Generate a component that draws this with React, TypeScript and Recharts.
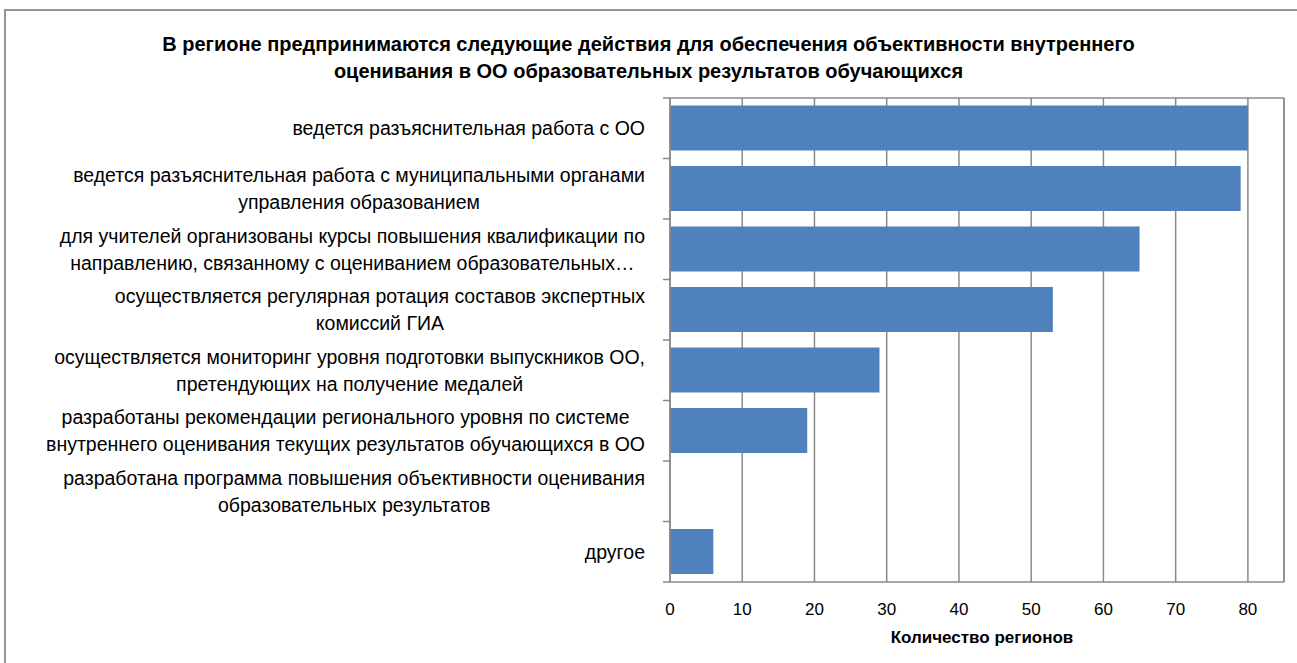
import React from "react";
import {
  BarChart,
  Bar,
  XAxis,
  YAxis,
  CartesianGrid,
  ReferenceLine,
} from "recharts";

const titleLines = [
  "В регионе предпринимаются следующие действия для обеспечения объективности внутреннего",
  "оценивания в ОО образовательных результатов обучающихся",
];

const categories = [
  "ведется разъяснительная работа с ОО",
  "ведется разъяснительная работа с муниципальными органами\nуправления образованием",
  "для учителей организованы курсы повышения квалификации по\nнаправлению, связанному с оцениванием образовательных…",
  "осуществляется регулярная ротация составов экспертных\nкомиссий ГИА",
  "осуществляется мониторинг уровня подготовки выпускников ОО,\nпретендующих на получение медалей",
  "разработаны рекомендации регионального уровня по системе\nвнутреннего оценивания текущих результатов обучающихся в ОО",
  "разработана программа повышения объективности оценивания\nобразовательных результатов",
  "другое",
];

const regionCounts = [80, 79, 65, 53, 29, 19, 0, 6];

const xTicks = [0, 10, 20, 30, 40, 50, 60, 70, 80];
const xMax = 85;
const xTitle = "Количество регионов";

const data = categories.map((name, i) => ({ name, value: regionCounts[i] }));

const FONT = "'Liberation Sans', Arial, sans-serif";
const GRID = "#8a8a8a";
const BAR = "#4F81BD";

const W = 1297;
const H = 663;
const PLOT_LEFT = 670;
const PLOT_TOP = 98;
const PLOT_BOTTOM = 582;
const LABEL_SIZE = 19.5;
const LINE_H = 27;

let ctx: CanvasRenderingContext2D | null = null;
function measure(text: string) {
  if (!ctx) ctx = document.createElement("canvas").getContext("2d");
  if (!ctx) return text.length * LABEL_SIZE * 0.5;
  ctx.font = `${LABEL_SIZE}px ${FONT}`;
  return ctx.measureText(text).width;
}

const band = (PLOT_BOTTOM - PLOT_TOP) / categories.length;

function CategoryTick(props: any) {
  const { y, payload, index } = props;
  const lines = String(payload.value).split("\n");
  const widest = Math.max(...lines.map(measure));
  const cx = PLOT_LEFT - 25 - widest / 2;
  const y0 = y - ((lines.length - 1) * LINE_H) / 2;
  return (
    <g>
      <line x1={PLOT_LEFT - 7} x2={PLOT_LEFT} y1={y - band / 2} y2={y - band / 2} stroke={GRID} strokeWidth={1.5} />
      {index === categories.length - 1 && (
        <line x1={PLOT_LEFT - 7} x2={PLOT_LEFT} y1={y + band / 2} y2={y + band / 2} stroke={GRID} strokeWidth={1.5} />
      )}
      <text
        x={cx}
        y={y0}
        textAnchor="middle"
        dominantBaseline="central"
        fontFamily={FONT}
        fontSize={LABEL_SIZE}
        fill="#000"
      >
        {lines.map((l, i) => (
          <tspan key={i} x={cx} y={y0 + i * LINE_H}>
            {l}
          </tspan>
        ))}
      </text>
    </g>
  );
}

export default function App() {
  return (
    <div
      style={{
        position: "absolute",
        left: 0,
        top: 0,
        width: W,
        height: H,
        overflow: "hidden",
        background: "#fff",
      }}
    >
      <div
        style={{
          position: "absolute",
          left: 4,
          top: 9,
          width: 1400,
          height: 800,
          borderLeft: "2px solid #959595",
          borderTop: "2px solid #959595",
        }}
      />
      <div
        style={{
          position: "absolute",
          left: 0,
          top: 31,
          width: W,
          textAlign: "center",
          fontFamily: FONT,
          fontWeight: "bold",
          fontSize: 20,
          lineHeight: "27px",
          color: "#000",
        }}
      >
        {titleLines.map((t, i) => (
          <div key={i}>{t}</div>
        ))}
      </div>
      <div style={{ position: "absolute", left: 0, top: 0 }}>
        <BarChart
          width={W}
          height={H}
          data={data}
          layout="vertical"
          margin={{ top: PLOT_TOP - 6, right: W - 1284, bottom: 0, left: 0 }}
          barCategoryGap="12.5%"
        >
          <CartesianGrid
            xAxisId="bottom"
            horizontal={false}
            vertical={true}
            stroke={GRID}
            strokeWidth={1.5}
          />
          <XAxis
            xAxisId="top"
            orientation="top"
            type="number"
            domain={[0, xMax]}
            ticks={xTicks}
            height={6}
            tick={false}
            tickSize={6}
            tickLine={{ stroke: GRID, strokeWidth: 1.5 }}
            axisLine={{ stroke: GRID, strokeWidth: 1.5 }}
          />
          <XAxis
            xAxisId="bottom"
            orientation="bottom"
            type="number"
            domain={[0, xMax]}
            ticks={xTicks}
            height={H - PLOT_BOTTOM}
            tickLine={false}
            tickMargin={15}
            axisLine={{ stroke: GRID, strokeWidth: 1.5 }}
            tick={{ fontFamily: FONT, fontSize: 17, fill: "#000" }}
            label={{
              value: xTitle,
              position: "insideBottom",
              offset: 20,
              dx: 5,
              fontFamily: FONT,
              fontSize: 17,
              fontWeight: "bold",
              fill: "#000",
            }}
          />
          <YAxis
            type="category"
            dataKey="name"
            width={PLOT_LEFT}
            tickLine={false}
            axisLine={{ stroke: GRID, strokeWidth: 1.5 }}
            tick={<CategoryTick />}
            interval={0}
          />
          <ReferenceLine xAxisId="bottom" x={xMax} stroke={GRID} strokeWidth={1.5} />
          <Bar
            xAxisId="bottom"
            dataKey="value"
            fill={BAR}
            isAnimationActive={false}
          />
        </BarChart>
      </div>
    </div>
  );
}
